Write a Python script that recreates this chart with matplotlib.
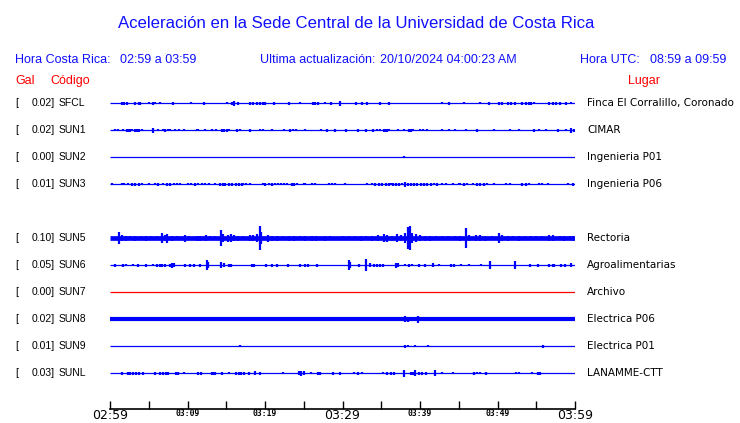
import matplotlib
matplotlib.use('Agg')
import matplotlib.pyplot as plt
from matplotlib.transforms import blended_transform_factory

plt.close('all')

# Stations (SUN4 row left empty in the original display)
codes = ['SFCL', 'SUN1', 'SUN2', 'SUN3', 'SUN5', 'SUN6', 'SUN7', 'SUN8', 'SUN9', 'SUNL']
gal = [0.02, 0.02, 0.00, 0.01, 0.10, 0.05, 0.00, 0.02, 0.01, 0.03]
places = ['Finca El Corralillo, Coronado', 'CIMAR', 'Ingenieria P01', 'Ingenieria P06',
          'Rectoria', 'Agroalimentarias', 'Archivo', 'Electrica P06', 'Electrica P01',
          'LANAMME-CTT']
rows = [0, 1, 2, 3, 5, 6, 7, 8, 9, 10]

time_labels = ['02:59', '03:09', '03:19', '03:29', '03:39', '03:49', '03:59']

# bursts: (minute after 02:59, half amplitude in px)
SFCL = [(1.5, 1.5), (1.85, 1.5), (2.15, 1.5), (3.2, 1.5), (3.7, 1.5), (3.9, 1.5), (5.0, 1),
        (5.5, 1.5), (5.8, 1), (6.4, 1), (8.1, 1.5), (10.5, 1), (12.1, 1.5), (15.1, 1),
        (15.7, 1.5), (16.0, 2.5), (16.5, 1.5), (18.1, 1.5), (18.4, 1.5), (19.0, 1.5),
        (19.4, 1.5), (19.7, 1.5), (20.0, 1.5), (21.2, 1.5), (23.1, 1.5), (24.5, 1),
        (26.2, 1.5), (26.5, 1.5), (26.8, 1.5), (27.8, 1), (28.5, 1.5), (29.7, 2.5),
        (31.7, 1.5), (32.5, 1.5), (33.1, 1.5), (34.9, 1.5), (36.0, 1.5), (42.9, 1),
        (43.7, 1.5), (45.7, 1), (47.7, 1), (48.9, 1.5), (50.2, 1.5), (50.6, 1.5),
        (51.3, 1.5), (51.7, 1.5), (52.2, 1.5), (53.2, 1.5), (53.7, 1.5), (54.1, 1.5),
        (54.3, 1.5), (54.7, 1), (56.7, 1.5), (57.1, 1.5), (57.5, 1.5), (58.0, 1.5),
        (58.8, 1.5), (59.5, 1)]
SUN1 = [(0.65, 1), (1.0, 1), (1.7, 1), (2.15, 1.5), (2.4, 1.5), (2.6, 1.5), (2.8, 1),
        (3.2, 1.5), (3.45, 1.5), (3.75, 1.5), (4.1, 1), (5.6, 2.5), (6.25, 1), (6.9, 1),
        (7.1, 1.5), (7.45, 1), (7.75, 1), (8.4, 1), (8.9, 1), (9.5, 1), (11.2, 1),
        (11.4, 1), (12.3, 1), (13.2, 1), (13.7, 1), (14.4, 1.5), (14.7, 1.5), (15.1, 1.5),
        (15.4, 1), (16.4, 1.5), (16.8, 1), (18.0, 1.5), (19.4, 1), (19.7, 1), (20.9, 1),
        (22.5, 1), (23.2, 1.5), (23.6, 1), (24.0, 1), (25.2, 1), (27.2, 1), (28.0, 1.5),
        (29.0, 1.5), (30.5, 1.5), (32.0, 1.5), (33.0, 1.5), (33.9, 1.5), (34.5, 1),
        (34.9, 1), (35.3, 1.5), (35.6, 1.5), (35.8, 1.5), (36.0, 1), (37.2, 1), (37.9, 1),
        (38.6, 1.5), (38.9, 1.5), (39.1, 1), (40.0, 1), (40.4, 1), (40.9, 1), (42.9, 1),
        (43.7, 1), (44.5, 1), (45.9, 1), (47.3, 1.5), (49.6, 1), (51.6, 1), (52.8, 1),
        (54.7, 1.5), (55.4, 1), (56.2, 1), (57.8, 1.5), (58.8, 1), (59.5, 2.5), (59.9, 1.5)]
SUN2 = [(37.9, 1)]
SUN3 = [(0.2, 1), (1.5, 1), (1.85, 1), (2.3, 1), (2.8, 1.5), (3.2, 1.5), (3.7, 1.5),
        (4.1, 1), (5.0, 1), (5.8, 1), (6.25, 1.5), (6.8, 1), (7.3, 1.5), (7.75, 1.5),
        (8.2, 1), (8.6, 1), (9.05, 1), (10.0, 1), (10.5, 1), (11.0, 1.5), (11.4, 1),
        (11.85, 1), (12.3, 1), (12.8, 1), (13.5, 1), (14.2, 1.5), (14.6, 1.5), (14.9, 1.5),
        (15.3, 1.5), (15.7, 1.5), (16.2, 1.5), (16.6, 1.5), (17.0, 1.5), (17.2, 1),
        (17.5, 1), (18.0, 1), (19.7, 1), (20.0, 1.5), (20.5, 1), (20.9, 1.5), (21.25, 1),
        (21.7, 1), (22.1, 1), (22.5, 1), (22.8, 1), (23.5, 1.5), (23.8, 1.5), (24.1, 1),
        (25.0, 1), (25.2, 1), (26.0, 1), (26.4, 1), (28.2, 1), (28.6, 1), (29.0, 1),
        (30.3, 1), (33.2, 1), (33.8, 1), (34.2, 1.5), (34.7, 1.5), (35.1, 1.5), (35.6, 1.5),
        (36.0, 1.5), (36.2, 1), (36.5, 1.5), (36.85, 1.5), (37.3, 1.5), (37.7, 1),
        (38.0, 2.5), (38.4, 1.5), (38.8, 1.5), (39.2, 1.5), (39.65, 1.5), (40.1, 1.5),
        (40.5, 1.5), (40.9, 1.5), (41.4, 1.5), (41.8, 1), (42.2, 1.5), (42.9, 1),
        (43.3, 1), (44.2, 1), (45.0, 1), (45.1, 1), (45.7, 1.5), (46.1, 1), (46.8, 1),
        (47.4, 1.5), (47.8, 1.5), (48.3, 1.5), (48.7, 1), (49.6, 1), (51.1, 1), (51.6, 1),
        (53.2, 1.5), (53.7, 1.5), (54.1, 1), (55.4, 1), (55.8, 1), (56.5, 1), (59.05, 1),
        (59.7, 1.5)]
SUN5 = [(1.1, 6), (1.5, 3), (2.0, 2.5), (2.6, 2), (3.2, 2.5), (4.0, 2), (4.6, 2.5),
        (5.3, 2), (6.0, 2), (6.7, 5), (7.1, 3), (7.4, 4.5), (8.0, 2.5), (8.6, 2),
        (9.7, 3.5), (10.2, 2), (11.2, 2.5), (11.6, 2.5), (12.4, 3), (12.9, 2), (13.6, 2),
        (14.3, 8), (14.6, 4), (15.2, 3.5), (15.6, 4), (16.0, 3), (16.5, 2.5), (17.2, 2),
        (18.0, 3), (18.5, 3), (19.0, 4), (19.3, 12), (19.5, 6), (20.4, 3.5), (20.9, 2.5),
        (21.6, 2.5), (22.3, 2), (23.1, 2.5), (23.8, 2.5), (24.5, 2), (25.2, 2.5),
        (26.0, 2.5), (26.6, 2.5), (27.8, 2.5), (28.4, 2), (30.0, 2), (30.8, 2), (31.6, 2),
        (32.4, 2.5), (33.0, 2), (33.8, 2.5), (34.6, 3), (35.3, 4), (35.8, 3.5), (36.4, 2.5),
        (37.0, 4), (37.5, 3), (38.0, 5), (38.4, 11), (38.7, 12), (39.0, 5), (39.5, 4),
        (40.0, 3), (40.6, 2.5), (41.3, 2.5), (42.0, 2), (42.8, 2), (43.6, 2), (44.5, 2),
        (45.2, 2.5), (45.9, 10), (46.3, 3), (47.2, 3), (47.7, 3), (48.4, 2.5), (49.3, 2),
        (50.2, 5), (50.6, 3), (51.3, 2.5), (52.0, 2), (52.8, 2.5), (53.6, 2), (54.3, 2),
        (55.0, 2), (55.8, 2), (56.6, 3), (57.1, 3), (58.0, 2), (58.6, 2.5), (59.3, 2),
        (59.8, 2.5)]
SUN6 = [(0.65, 1.5), (1.7, 1.5), (2.0, 1), (3.0, 1), (3.6, 1.5), (4.6, 1.5), (5.5, 1),
        (6.0, 1.5), (6.4, 1.5), (6.7, 1.5), (7.1, 1.5), (7.75, 1.5), (8.0, 2.5), (8.2, 2),
        (9.7, 1.5), (10.3, 1.5), (10.8, 1.5), (11.6, 1.5), (12.5, 5), (12.7, 3),
        (14.35, 3), (14.65, 2), (15.3, 1.5), (15.6, 1.5), (18.3, 1.5), (18.6, 1.5),
        (20.1, 1.5), (20.9, 1.5), (21.55, 1.5), (23.0, 1.5), (24.5, 1.5), (25.2, 1.5),
        (25.6, 1.5), (26.7, 1.5), (30.8, 5), (31.0, 3), (32.1, 1.5), (33.0, 6), (33.6, 2),
        (34.05, 1.5), (34.5, 1.5), (34.9, 1.5), (35.2, 1.5), (36.85, 2.5), (37.15, 2),
        (38.0, 1), (38.6, 1.5), (39.0, 1), (39.9, 1.5), (40.6, 1.5), (41.7, 2), (42.4, 1),
        (44.0, 1.5), (44.4, 1.5), (45.3, 1), (46.3, 1), (47.9, 1), (49.0, 4), (52.2, 4),
        (54.2, 1.5), (55.2, 1.5), (56.7, 1.5), (57.1, 1.5), (57.3, 1.5), (58.2, 1.5),
        (58.75, 1.5), (59.5, 2)]
SUN7 = []
SUN8 = [(12.4, 1.5), (21.1, 1.5), (27.7, 1.5), (30.8, 1.5), (38.0, 3), (38.5, 2.5),
        (38.9, 2), (39.8, 3.5), (46.4, 1.5), (53.4, 2), (55.9, 2)]
SUN9 = [(16.8, 1), (38.0, 1.5), (38.5, 1), (39.3, 1), (41.0, 1), (55.9, 1.5)]
SUNL = [(1.6, 1.5), (2.3, 1.5), (2.6, 1.5), (3.0, 1.5), (3.3, 1.5), (3.8, 1.5), (4.2, 1.5),
        (5.8, 1.5), (6.4, 1.5), (6.9, 1.5), (7.2, 1.5), (7.5, 1.5), (8.5, 1.5), (8.8, 1.5),
        (9.6, 1), (11.4, 1.5), (11.7, 1.5), (13.1, 1.5), (13.4, 1.5), (13.6, 1.5),
        (14.4, 1.5), (15.3, 1), (16.25, 1.5), (16.6, 1.5), (16.9, 1.5), (17.3, 1.5),
        (17.9, 1.5), (18.7, 2), (19.4, 1.5), (22.3, 1), (24.35, 2), (24.7, 2.5), (25.0, 2),
        (25.95, 1), (26.8, 1.5), (27.1, 1.5), (28.8, 1.5), (29.65, 1.5), (31.5, 1),
        (32.0, 1.5), (32.5, 1), (35.2, 1), (35.8, 1.5), (36.2, 1.5), (36.6, 1.5),
        (37.9, 3.5), (38.8, 1.5), (39.1, 1.5), (39.35, 3), (39.9, 1.5), (40.3, 1.5),
        (40.8, 1.5), (41.9, 3), (42.9, 1), (44.3, 1), (47.0, 1.5), (47.3, 1), (47.8, 1),
        (48.5, 1.5), (52.4, 1), (52.8, 1), (54.5, 1), (55.2, 1.5), (55.5, 1.5)]

bursts = [SFCL, SUN1, SUN2, SUN3, SUN5, SUN6, SUN7, SUN8, SUN9, SUNL]

W, H = 740, 423
ROW_PX = 27
fig = plt.figure(figsize=(W / 100, H / 100), dpi=100)
ax = fig.add_axes([110 / W, 1 - 409 / H, 465 / W, 333 / H])
ax.set_xlim(0, 60)
ax.set_ylim(11.333, -1)

for code, row, b in zip(codes, rows, bursts):
    color = 'red' if code == 'SUN7' else 'blue'
    lw = {'SUN5': 3.4, 'SUN8': 3.0}.get(code, 0.9)
    ax.plot([0, 60], [row, row], color=color, lw=lw, solid_capstyle='butt')
    if b:
        t = [p[0] for p in b]
        a = [p[1] / ROW_PX for p in b]
        ax.vlines(t, [row - v for v in a], [row + v for v in a], color=color, lw=1.6)

for s in ['top', 'left', 'right']:
    ax.spines[s].set_visible(False)
ax.spines['bottom'].set_linewidth(1.2)
ax.set_yticks([])
ax.set_xticks(range(0, 61, 5))
ax.tick_params(axis='x', direction='in', length=6, width=1, pad=0)
ax.set_xticklabels([time_labels[i // 2] if i % 2 == 0 else '' for i in range(13)])
for i, lab in enumerate(ax.get_xticklabels()):
    if i % 6 == 0:
        lab.set_fontsize(9)
        lab.set_fontfamily('DejaVu Sans')
    else:
        lab.set_fontsize(5.8)
        lab.set_fontfamily('DejaVu Sans Mono')
        lab.set_fontweight('bold')

blue = '#1010ff'
sans = 'Liberation Sans'
fig.text(356 / W, 1 - 23 / H, 'Aceleración en la Sede Central de la Universidad de Costa Rica',
         ha='center', va='center', color=blue, fontsize=12.1, family=sans)
hy = 1 - 60 / H
fig.text(15 / W, hy, 'Hora Costa Rica:', color=blue, fontsize=9, family=sans, va='center')
fig.text(120 / W, hy, '02:59 a 03:59', color=blue, fontsize=9, family=sans, va='center')
fig.text(260 / W, hy, 'Ultima actualización:', color=blue, fontsize=9, family=sans, va='center')
fig.text(380 / W, hy, '20/10/2024 04:00:23 AM', color=blue, fontsize=9, family=sans, va='center')
fig.text(580 / W, hy, 'Hora UTC:', color=blue, fontsize=9, family=sans, va='center')
fig.text(650 / W, hy, '08:59 a 09:59', color=blue, fontsize=9, family=sans, va='center')
ly = 1 - 81 / H
fig.text(15 / W, ly, 'Gal', color='red', fontsize=9, family=sans, va='center')
fig.text(50 / W, ly, 'Código', color='red', fontsize=9, family=sans, va='center')
fig.text(628 / W, ly, 'Lugar', color='red', fontsize=9, family=sans, va='center')

tr = blended_transform_factory(fig.transFigure, ax.transData)
for code, g, place, row in zip(codes, gal, places, rows):
    ax.text(15 / W, row, '[', transform=tr, va='center', fontsize=7.5, family=sans)
    ax.text(55 / W, row, '%.2f]' % g, transform=tr, va='center', ha='right', fontsize=7.5, family=sans)
    ax.text(59 / W, row, code, transform=tr, va='center', fontsize=7.5, family=sans)
    ax.text(587 / W, row, place, transform=tr, va='center', fontsize=7.5, family='DejaVu Sans')

fig.savefig('out.png', dpi=100)
